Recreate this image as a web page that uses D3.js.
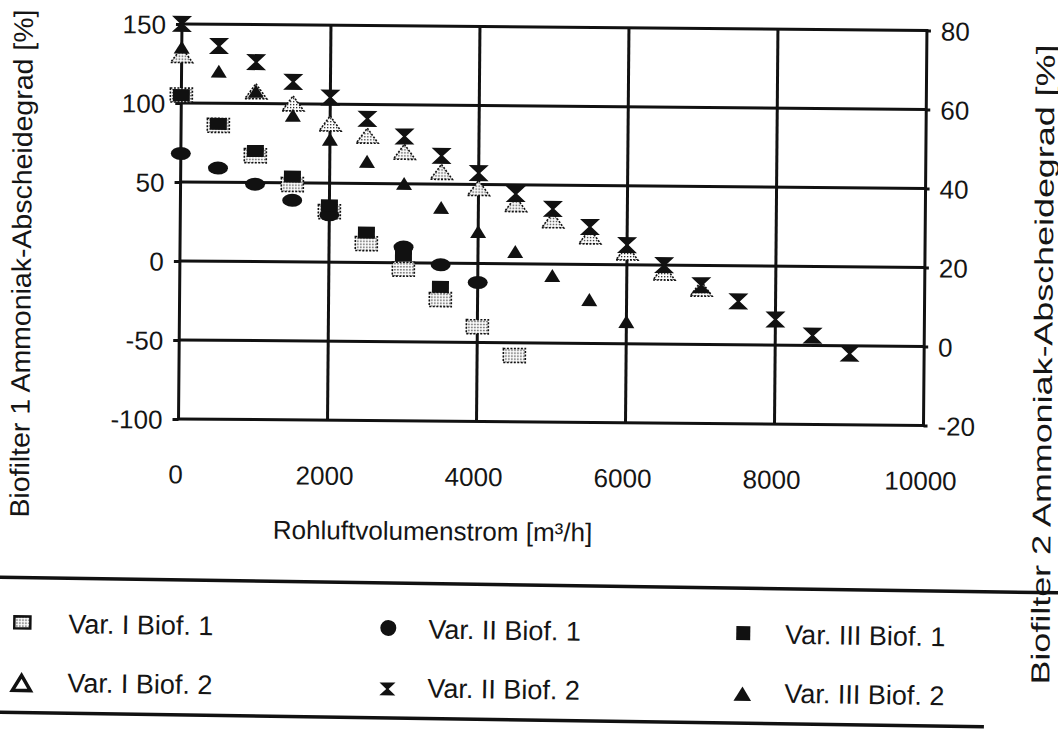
<!DOCTYPE html>
<html>
<head>
<meta charset="utf-8">
<script src="https://cdn.jsdelivr.net/npm/d3@7"></script>
<style>
  body { margin: 0; background: #fff; }
  text { font-family: "Liberation Sans", Arial, sans-serif; fill: #151515; }
</style>
</head>
<body>
<script>
// Rohluftvolumenstrom [m3/h]
const flows = [0, 500, 1000, 1500, 2000, 2500, 3000, 3500, 4000, 4500,
               5000, 5500, 6000, 6500, 7000, 7500, 8000, 8500, 9000];

// Biofilter 1 (left axis)
const varIBiof1   = [105, 86, 67, 49, 32, 12, -4, -23, -40, -58, null, null, null, null, null, null, null, null, null];
const varIIBiof1  = [68, 59, 49, 39, 30, null, 10, -1, -12, null, null, null, null, null, null, null, null, null, null];
const varIIIBiof1 = [105, 87, 70, 54, 36, 19, 5, -15, null, null, null, null, null, null, null, null, null, null, null];

// Biofilter 2 (right axis)
const varIBiof2   = [72, null, 63, 60, 55, 52, 48, 43, 39, 35, 31, 27, 23, 18, 14, null, null, null, null];
const varIIBiof2  = [80, 74.5, 70.5, 65.6, 61.7, 56.4, 52, 47.2, 42.9, 37.7, 34, 29.5, 25, 20, 15, 11, 6.5, 2.5, -2];
const varIIIBiof2 = [74, 68, 63, 57, 51, 45.5, 40, 34, 28, 23, 17, 11, 5.5, null, null, null, null, null, null];

const leftTicks  = [150, 100, 50, 0, -50, -100];
const rightTicks = [80, 60, 40, 20, 0, -20];
const xTicks     = [0, 2000, 4000, 6000, 8000, 10000];

const legendNames = ["Var. I Biof. 1", "Var. II Biof. 1", "Var. III Biof. 1",
                     "Var. I Biof. 2", "Var. II Biof. 2", "Var. III Biof. 2"];

const W = 1058, H = 733;
const svg = d3.select("body").append("svg").attr("width", W).attr("height", H);

// stippled fill like the scanned print
const defs = svg.append("defs");
const pat = defs.append("pattern").attr("id", "dots")
    .attr("width", 3).attr("height", 3).attr("patternUnits", "userSpaceOnUse");
pat.append("rect").attr("width", 3).attr("height", 3).attr("fill", "#fff");
pat.append("rect").attr("width", 1.3).attr("height", 1.3).attr("fill", "#222");

var x = d3.scaleLinear().domain([0, 10000]).range([179, 924]);
var yL = d3.scaleLinear().domain([-100, 150]).range([422, 27]);
var yR = d3.scaleLinear().domain([-20, 80]).range([422, 27]);

var plain = d => String(d);   // no thousands comma, ascii minus

// the scan is turned a little, so the whole chart is too
var g = svg.append("g").attr("transform", "rotate(0.5,529,366)");

// grid
g.selectAll(".hgrid").data(leftTicks.filter(d => d > -100 && d < 150)).enter()
  .append("line")
  .attr("x1", x(0)).attr("x2", x(10000))
  .attr("y1", d => yL(d)).attr("y2", d => yL(d))
  .attr("stroke", "#111").attr("stroke-width", 3);

g.selectAll(".vgrid").data(xTicks.filter(d => d > 0 && d < 10000)).enter()
  .append("line")
  .attr("x1", d => x(d)).attr("x2", d => x(d))
  .attr("y1", yL(150)).attr("y2", yL(-100))
  .attr("stroke", "#111").attr("stroke-width", 3);

g.append("rect")
  .attr("x", x(0)).attr("y", yL(150))
  .attr("width", x(10000) - x(0)).attr("height", yL(-100) - yL(150))
  .attr("fill", "none").attr("stroke", "#111").attr("stroke-width", 3);

// axes
var axL = g.append("g").attr("transform", "translate(" + x(0) + ",0)")
  .call(d3.axisLeft(yL).tickValues(leftTicks).tickFormat(plain).tickSize(6).tickPadding(10));
var axR = g.append("g").attr("transform", "translate(" + x(10000) + ",0)")
  .call(d3.axisRight(yR).tickValues(rightTicks).tickFormat(plain).tickSize(4).tickPadding(10));
var axB = g.append("g").attr("transform", "translate(-3," + (yL(-100) + 34) + ")")
  .call(d3.axisBottom(x).tickValues(xTicks).tickFormat(plain).tickSize(0).tickPadding(12));

[axL, axR, axB].forEach(a => {
  a.select(".domain").remove();
  a.selectAll("line").attr("stroke", "#111").attr("stroke-width", 3);
  a.selectAll("text").style("font-size", "26px").attr("fill", "#151515");
});
axL.selectAll("text").attr("dy", "0.36em");
axR.selectAll("text").attr("dy", "0.36em");

// axis titles
g.append("text")
  .attr("x", 434).attr("y", 541).attr("text-anchor", "middle")
  .style("font-size", "26px")
  .text("Rohluftvolumenstrom [m³/h]");

g.append("text")
  .attr("transform", "translate(30,268) rotate(-90)")
  .attr("text-anchor", "middle").style("font-size", "27px")
  .attr("textLength", 508).attr("lengthAdjust", "spacingAndGlyphs")
  .text("Biofilter 1 Ammoniak-Abscheidegrad [%]");

g.append("text")
  .attr("transform", "translate(1052,360) rotate(-90)")
  .attr("text-anchor", "middle").style("font-size", "26px")
  .attr("textLength", 640).attr("lengthAdjust", "spacingAndGlyphs")
  .text("Biofilter 2 Ammoniak-Abscheidegrad [%]");

// marker shapes
function marker(sel, shape, k) {
  k = k || 1;
  if (shape === "dotsq") {
    sel.append("rect").attr("x", -11 * k).attr("y", -7 * k)
      .attr("width", 22 * k).attr("height", 14 * k)
      .attr("fill", "url(#dots)").attr("stroke", "#111")
      .attr("stroke-width", 1.6).attr("stroke-dasharray", "2,1.5");
  } else if (shape === "circle") {
    sel.append("ellipse").attr("rx", 10 * k).attr("ry", 6.5 * k).attr("fill", "#111");
  } else if (shape === "sq") {
    sel.append("rect").attr("x", -8.5 * k).attr("y", -6 * k)
      .attr("width", 17 * k).attr("height", 12 * k).attr("fill", "#111");
  } else if (shape === "dottri") {
    sel.append("path")
      .attr("d", "M0," + (-8 * k) + "L" + (11 * k) + "," + (7 * k) + "L" + (-11 * k) + "," + (7 * k) + "Z")
      .attr("fill", "url(#dots)").attr("stroke", "#111")
      .attr("stroke-width", 1.6).attr("stroke-dasharray", "2,1.5");
  } else if (shape === "tri") {
    sel.append("path")
      .attr("d", "M0," + (-7 * k) + "L" + (8 * k) + "," + (6 * k) + "L" + (-8 * k) + "," + (6 * k) + "Z")
      .attr("fill", "#111");
  } else if (shape === "hour") {
    sel.append("path")
      .attr("d", "M" + (-10 * k) + "," + (-8 * k) + "H" + (10 * k) + "L" + (1.5 * k) + ",0L" + (10 * k) + "," + (8 * k) +
                 "H" + (-10 * k) + "L" + (-1.5 * k) + ",0Z")
      .attr("fill", "#111");
  }
}

const series = [
  { values: varIBiof1,   y: yL, shape: "dotsq" },
  { values: varIIBiof1,  y: yL, shape: "circle" },
  { values: varIIIBiof1, y: yL, shape: "sq" },
  { values: varIBiof2,   y: yR, shape: "dottri" },
  { values: varIIIBiof2, y: yR, shape: "tri" },
  { values: varIIBiof2,  y: yR, shape: "hour" }
];

series.forEach(s => {
  var pts = flows.map((f, i) => ({ f: f, v: s.values[i] })).filter(d => d.v != null);
  g.append("g").selectAll("g").data(pts).enter().append("g")
    .attr("transform", d => "translate(" + x(d.f) + "," + s.y(d.v) + ")")
    .each(function () { marker(d3.select(this), s.shape); });
});

// legend (turned a bit more than the plot on the scan)
var lg = svg.append("g").attr("transform", "rotate(0.85,529,650)");
lg.append("line").attr("x1", -10).attr("x2", 1070).attr("y1", 585).attr("y2", 585)
  .attr("stroke", "#111").attr("stroke-width", 3.5);
lg.append("line").attr("x1", -10).attr("x2", 985).attr("y1", 720).attr("y2", 720)
  .attr("stroke", "#111").attr("stroke-width", 3.5);

const legendShapes = ["dotsq", "circle", "sq", "outtri", "hour", "tri"];
const legendX = [22, 388, 743];
const legendMarkY = [630, 691];
const legendTextY = [640, 699];

legendNames.forEach((name, i) => {
  var col = i % 3, row = Math.floor(i / 3);
  var m = lg.append("g").attr("transform", "translate(" + legendX[col] + "," + legendMarkY[row] + ")");
  var sh = legendShapes[i];
  if (sh === "outtri") {
    m.append("path").attr("d", "M0,-8L9,7L-9,7Z")
      .attr("fill", "#fff").attr("stroke", "#111").attr("stroke-width", 3.5).attr("stroke-linejoin", "miter");
  } else if (sh === "dotsq") {
    m.append("rect").attr("x", -8).attr("y", -6).attr("width", 16).attr("height", 12)
      .attr("fill", "url(#dots)").attr("stroke", "#111").attr("stroke-width", 2.5);
  } else if (sh === "circle") {
    m.append("circle").attr("r", 8).attr("fill", "#111");
  } else if (sh === "sq") {
    m.append("rect").attr("x", -7).attr("y", -7).attr("width", 14).attr("height", 14).attr("fill", "#111");
  } else if (sh === "hour") {
    marker(m, "hour", 0.8);
  } else {
    marker(m, "tri", 1.1);
  }
  lg.append("text")
    .attr("x", legendX[col] + (col === 0 ? 46 : col === 1 ? 40 : 42))
    .attr("y", legendTextY[row])
    .style("font-size", "27px")
    .text(name);
});
</script>
</body>
</html>
